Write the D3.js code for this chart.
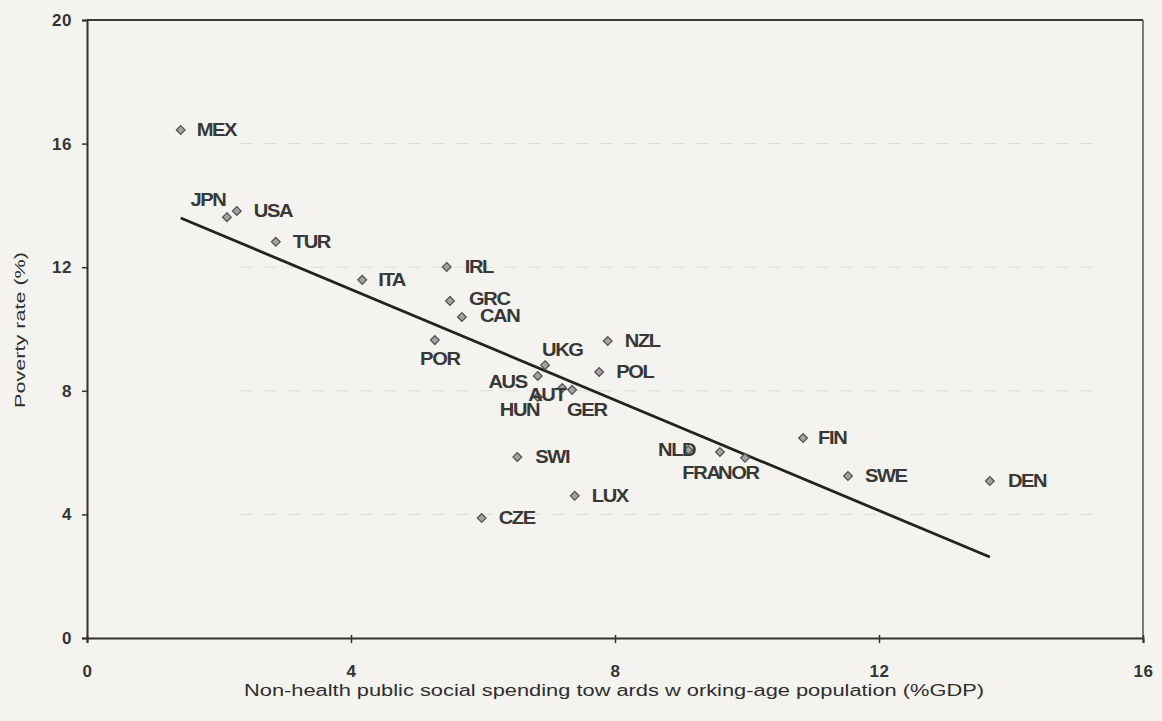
<!DOCTYPE html>
<html>
<head>
<meta charset="utf-8">
<script src="https://cdn.jsdelivr.net/npm/d3@7"></script>
<style>
  html, body { margin: 0; padding: 0; background: #f4f3ef; }
  svg { display: block; }
  text { font-family: "Liberation Sans", Arial, sans-serif; }
</style>
</head>
<body>
<svg id="chart" width="1162" height="721"></svg>
<script>
// ---- data ----
const countries = ["MEX","JPN","USA","TUR","ITA","IRL","GRC","CAN","POR","UKG","NZL","POL","AUS","AUT","HUN","GER","SWI","LUX","CZE","NLD","FRA","NOR","FIN","SWE","DEN"];
const spending  = [1.42, 2.12, 2.27, 2.86, 4.17, 5.45, 5.50, 5.68, 5.27, 6.94, 7.89, 7.76, 6.83, 7.20, 6.83, 7.35, 6.52, 7.39, 5.98, 9.11, 9.59, 9.97, 10.85, 11.53, 13.68];
const poverty   = [16.44, 13.62, 13.82, 12.82, 11.59, 12.01, 10.91, 10.39, 9.64, 8.83, 9.61, 8.61, 8.48, 8.09, 7.80, 8.03, 5.86, 4.60, 3.88, 6.08, 6.02, 5.83, 6.47, 5.24, 5.08];
const trendX = [1.42, 13.68];
const trendY = [13.59, 2.62];
const xTicks = [0, 4, 8, 12, 16];
const yTicks = [0, 4, 8, 12, 16, 20];
const xTitle = "Non-health public social spending tow ards w orking-age population (%GDP)";
const yTitle = "Poverty rate (%)";

// label placement (pixel offsets from the marker)
const labelPlace = {
  MEX:{dx:16,dy:0,a:"start"}, JPN:{dx:-19,dy:-17,a:"middle"}, USA:{dx:17,dy:0,a:"start"},
  TUR:{dx:17,dy:0,a:"start"}, ITA:{dx:16,dy:0,a:"start"}, IRL:{dx:18,dy:0,a:"start"},
  GRC:{dx:19,dy:-2,a:"start"}, CAN:{dx:18,dy:-1,a:"start"}, POR:{dx:5,dy:19,a:"middle"},
  UKG:{dx:-3,dy:-15,a:"start"}, NZL:{dx:17,dy:0,a:"start"}, POL:{dx:17,dy:0,a:"start"},
  AUS:{dx:-11,dy:6,a:"end"}, AUT:{dx:-34,dy:7,a:"start"}, HUN:{dx:-38,dy:13,a:"start"},
  GER:{dx:-5,dy:20,a:"start"}, SWI:{dx:18,dy:0,a:"start"}, LUX:{dx:17,dy:0,a:"start"},
  CZE:{dx:17,dy:0,a:"start"}, NLD:{dx:7,dy:0,a:"end"}, FRA:{dx:-19,dy:21,a:"middle"},
  NOR:{dx:-27,dy:15,a:"start"}, FIN:{dx:15,dy:0,a:"start"}, SWE:{dx:17,dy:0,a:"start"},
  DEN:{dx:18,dy:0,a:"start"}
};

const svg = d3.select("#chart");
const L = 87, R = 1143, T = 20, B = 638;
const x = d3.scaleLinear().domain([0, 16]).range([L, R]);
const y = d3.scaleLinear().domain([0, 20]).range([B, T]);

// faint scan gridlines
svg.append("g").selectAll("line").data([4, 8, 12, 16]).join("line")
  .attr("x1", x(2.3)).attr("x2", x(15.4))
  .attr("y1", d => y(d)).attr("y2", d => y(d))
  .attr("stroke", "#dddcd7").attr("stroke-width", 1).attr("stroke-dasharray", "14 10");

// frame
svg.append("line").attr("x1", L).attr("x2", R).attr("y1", T).attr("y2", T).attr("stroke", "#3a3a3a").attr("stroke-width", 2);
svg.append("line").attr("x1", R).attr("x2", R).attr("y1", T).attr("y2", B).attr("stroke", "#555").attr("stroke-width", 1.5);

// axes
const xAxis = svg.append("g").attr("transform", `translate(0,${B})`)
  .call(d3.axisBottom(x).tickValues(xTicks).tickSize(5).tickPadding(22).tickFormat(d3.format("d")));
const yAxis = svg.append("g").attr("transform", `translate(${L},0)`)
  .call(d3.axisLeft(y).tickValues(yTicks).tickSize(5).tickPadding(10).tickFormat(d3.format("d")));
[xAxis, yAxis].forEach(g => {
  g.select(".domain").attr("stroke", "#333").attr("stroke-width", 2);
  g.selectAll(".tick line").attr("stroke", "#333").attr("stroke-width", 1.5);
  g.selectAll(".tick text").attr("fill", "#353535").attr("font-size", 17).attr("font-weight", "bold")
    .attr("letter-spacing", 0.5);
});
xAxis.selectAll(".tick line").attr("y1", -3);

// axis titles
svg.append("text").attr("x", 244).attr("y", 696)
  .attr("textLength", 740).attr("lengthAdjust", "spacingAndGlyphs")
  .attr("font-size", 16).attr("fill", "#2e2e2e").text(xTitle);
svg.append("text").attr("transform", `translate(25,408) rotate(-90)`)
  .attr("textLength", 156).attr("lengthAdjust", "spacingAndGlyphs")
  .attr("font-size", 15.5).attr("fill", "#2e2e2e").text(yTitle);

// trendline
svg.append("line")
  .attr("x1", x(trendX[0])).attr("y1", y(trendY[0]))
  .attr("x2", x(trendX[1])).attr("y2", y(trendY[1]))
  .attr("stroke", "#222").attr("stroke-width", 2.8);

// points
const pts = countries.map((c, i) => ({c, xv: spending[i], yv: poverty[i]}));
const diamond = d3.symbol().type(d3.symbolDiamond2).size(48);
svg.append("g").selectAll("path").data(pts).join("path")
  .attr("d", diamond)
  .attr("transform", d => `translate(${x(d.xv)},${y(d.yv)})`)
  .attr("fill", "#a3a3a3").attr("stroke", "#555").attr("stroke-width", 1.3);

// labels (slightly widened, like the scanned original)
svg.append("g").selectAll("text").data(pts).join("text")
  .attr("transform", d => `translate(${x(d.xv) + labelPlace[d.c].dx},${y(d.yv) + labelPlace[d.c].dy}) scale(1.15,1)`)
  .attr("dy", "0.36em")
  .attr("text-anchor", d => labelPlace[d.c].a)
  .attr("font-size", 17.5).attr("font-weight", "bold").attr("letter-spacing", -1.2)
  .attr("fill", "#383838").text(d => d.c);
</script>
</body>
</html>
